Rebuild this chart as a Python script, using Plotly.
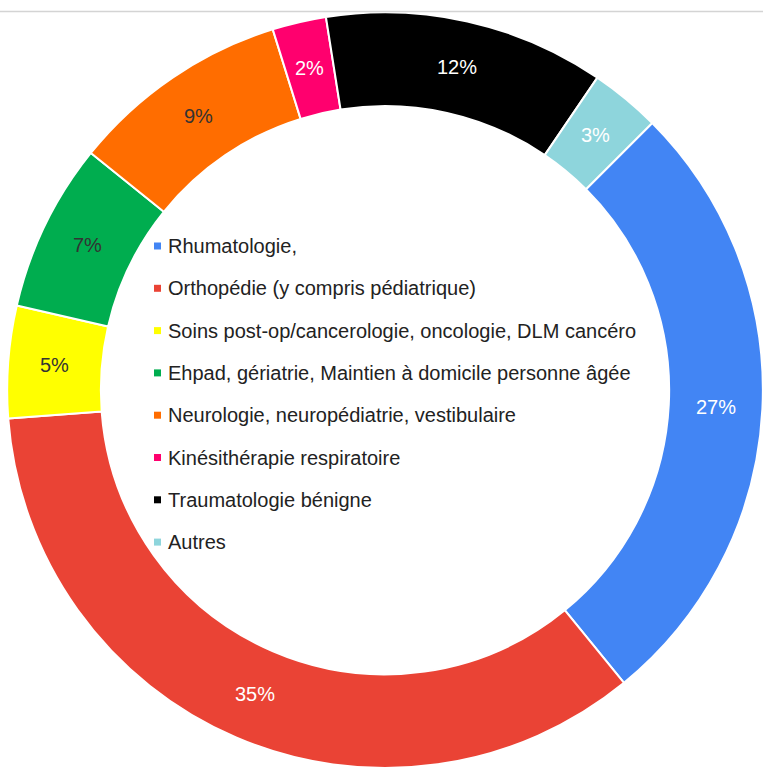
import math
import plotly.graph_objects as go

# Données du graphique
labels = [
    "Rhumatologie,",
    "Orthopédie (y compris pédiatrique)",
    "Soins post-op/cancerologie, oncologie, DLM cancéro",
    "Ehpad, gériatrie, Maintien à domicile personne âgée",
    "Neurologie, neuropédiatrie, vestibulaire",
    "Kinésithérapie respiratoire",
    "Traumatologie bénigne",
    "Autres",
]
values = [26.6, 34.7, 4.8, 7.2, 9.4, 2.3, 12.0, 3.0]
colors = ["#4285F4", "#EA4335", "#FFFF00", "#00AD4F",
          "#FF6D00", "#FF006E", "#000000", "#8ED5DC"]
text_colors = ["white", "white", "#333333", "#333333",
               "#333333", "white", "white", "white"]

W, H = 763, 769
FONT = "Liberation Sans, Arial, sans-serif"
ROTATION = 45
HOLE = 0.752
DOMAIN_X = [0.0092, 1.0]
DOMAIN_Y = [0.0013, 0.984]

fig = go.Figure()

fig.add_trace(go.Pie(
    labels=labels,
    values=values,
    sort=False,
    direction="clockwise",
    rotation=ROTATION,
    hole=HOLE,
    marker=dict(colors=colors, line=dict(color="white", width=2)),
    textinfo="none",
    hoverinfo="label+percent",
    showlegend=False,
    domain=dict(x=DOMAIN_X, y=DOMAIN_Y),
))

# Étiquettes de pourcentage au milieu de l'anneau
cx = (DOMAIN_X[0] + DOMAIN_X[1]) / 2 * W
cy = (DOMAIN_Y[0] + DOMAIN_Y[1]) / 2 * H
radius = min((DOMAIN_X[1] - DOMAIN_X[0]) * W, (DOMAIN_Y[1] - DOMAIN_Y[0]) * H) / 2
r_label = radius * (1 + HOLE) / 2
total = sum(values)

annotations = []
cum = 0
for v, tc in zip(values, text_colors):
    mid = math.radians(ROTATION + (cum + v / 2) / total * 360)
    cum += v
    px_x = cx + r_label * math.sin(mid)
    px_y = cy + r_label * math.cos(mid)
    pct = int(100 * v / total + 0.5)
    annotations.append(dict(
        text=f"{pct}%", xref="paper", yref="paper",
        x=px_x / W, y=px_y / H, xanchor="center", yanchor="middle",
        showarrow=False, font=dict(family=FONT, size=20, color=tc),
    ))

# Légende dans le trou du donut
legend_x = 152 / W
legend_top = 246
legend_step = 42.3
shapes = []
for i, (lab, col) in enumerate(zip(labels, colors)):
    yc = 1 - (legend_top + i * legend_step) / H
    shapes.append(dict(
        type="rect", xref="paper", yref="paper",
        x0=legend_x + 2 / W, x1=legend_x + 9 / W,
        y0=yc - 3.5 / H, y1=yc + 3.5 / H,
        fillcolor=col, line=dict(width=0),
    ))
    annotations.append(dict(
        text=lab, xref="paper", yref="paper",
        x=legend_x + 14 / W, y=yc, xanchor="left", yanchor="middle",
        showarrow=False, font=dict(family=FONT, size=20, color="#222222"),
    ))

# Ligne grise en haut
shapes.append(dict(
    type="line", xref="paper", yref="paper",
    x0=0, x1=1, y0=1 - 11.5 / H, y1=1 - 11.5 / H,
    line=dict(color="#D4D4D4", width=1.5),
))

fig.update_layout(
    width=W,
    height=H,
    margin=dict(l=0, r=0, t=0, b=0),
    paper_bgcolor="white",
    plot_bgcolor="white",
    shapes=shapes,
    annotations=annotations,
)

fig.write_html(
    "out.html",
    config={"displayModeBar": False},
    post_script=(
        "document.documentElement.style.overflow='hidden';"
        "document.body.style.margin='0';document.body.style.overflow='hidden';"
    ),
)
